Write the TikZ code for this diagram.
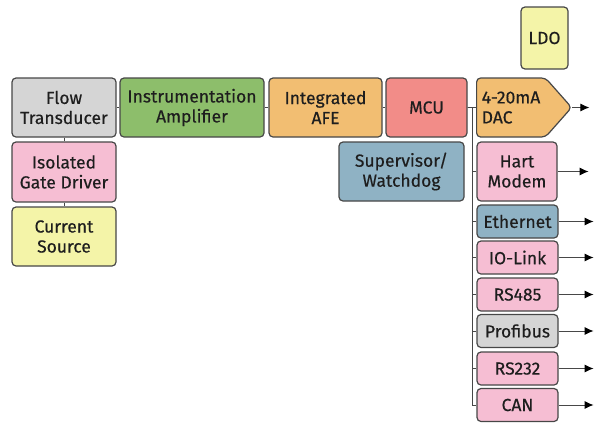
\documentclass[tikz,border=0pt]{standalone}
\usepackage{fontspec}
\setmainfont{Fira Sans}[UprightFeatures={FakeBold=0.4}]
\usepackage{xcolor}
\usetikzlibrary{shapes.symbols,arrows.meta}

\definecolor{kline}{HTML}{474747}
\definecolor{ktext}{HTML}{1E1E1E}
\definecolor{kgray}{HTML}{D5D5D5}
\definecolor{kgreen}{HTML}{8DBE6B}
\definecolor{korange}{HTML}{F2BE72}
\definecolor{ksalmon}{HTML}{F28C88}
\definecolor{kpink}{HTML}{F6BED3}
\definecolor{kyellow}{HTML}{F4F4A8}
\definecolor{kblue}{HTML}{8FB2C4}

\tikzset{
  blk/.style={draw=kline,line width=1.2pt,rounded corners=4pt,align=center,
    inner sep=0pt,text=ktext,font=\fontsize{17.5}{20}\selectfont},
  wire/.style={draw=kline,line width=0.9pt},
  outarrow/.style={wire,-{Latex[length=9pt,width=8pt,color=black]}}
}

\begin{document}
\begin{tikzpicture}[x=1pt,y=-1pt]
		\useasboundingbox (0,0) rectangle (600,429);
		% 绘制信号链
		\node[blk,fill=kgray,minimum width=104,minimum height=59] (flow) at (64,107.5) {Flow\\Transducer};
		\node[blk,fill=kgreen,minimum width=144,minimum height=59] (amp) at (192,107.5) {Instrumentation\\Amplifier};
		\node[blk,fill=korange,minimum width=113,minimum height=59] (afe) at (325.5,107.5) {Integrated\\AFE};
		\node[blk,fill=ksalmon,minimum width=81,minimum height=59] (mcu) at (426.5,107.5) {MCU};
		\node[blk,shape=signal,signal to=east,signal pointer angle=97,fill=korange,
			minimum width=95,minimum height=59,align=left,anchor=west] (dac) at (476,107.5) {4-20mA\\DAC};
		\node[blk,fill=kyellow,minimum width=47,minimum height=62] (ldo) at (544.5,38) {LDO};
		% 绘制左侧方框
		\node[blk,fill=kpink,minimum width=104,minimum height=60] (gate) at (64,172) {Isolated\\Gate Driver};
		\node[blk,fill=kyellow,minimum width=104,minimum height=59] (source) at (64,236.5) {Current\\Source};
		\node[blk,fill=kblue,minimum width=125,minimum height=59] (watchdog) at (401.5,171.5) {Supervisor/\\Watchdog};
		\node[blk,fill=kpink,minimum width=80,minimum height=59] (hart) at (517,171.5) {Hart\\Modem};
		% 绘制连线
		\draw[wire] (flow) -- (amp);
		\draw[wire] (amp) -- (afe);
		\draw[wire] (afe) -- (mcu);
		\draw[wire] (mcu) -- (dac);
		\draw[wire] (flow) -- (gate);
		\draw[wire] (gate) -- (source);
		\coordinate (bus) at (472,107.5);
		\draw[outarrow] (dac.east) -- ++(17,0);
		\draw[wire] (hart.west) -- (bus |- hart.west);
		\draw[outarrow] (hart.east) -- ++(31,0);
		% 绘制通信接口
		\foreach \n/\t/\c/\y in {eth/Ethernet/kblue/221.5,iol/IO-Link/kpink/257.5,rs485/RS485/kpink/294.5,
			prof/Profibus/kgray/331,rs232/RS232/kpink/368.5,can/CAN/kpink/405}{
			\node[blk,fill=\c,minimum width=81,minimum height=33] (\n) at (517.5,\y) {\t};
			\draw[wire] (\n.west) -- (bus |- \n.west);
			\draw[outarrow] (\n.east) -- ++(35,0);
		}
		\draw[wire] (bus) |- (can.west);
	\end{tikzpicture}
\end{document}
